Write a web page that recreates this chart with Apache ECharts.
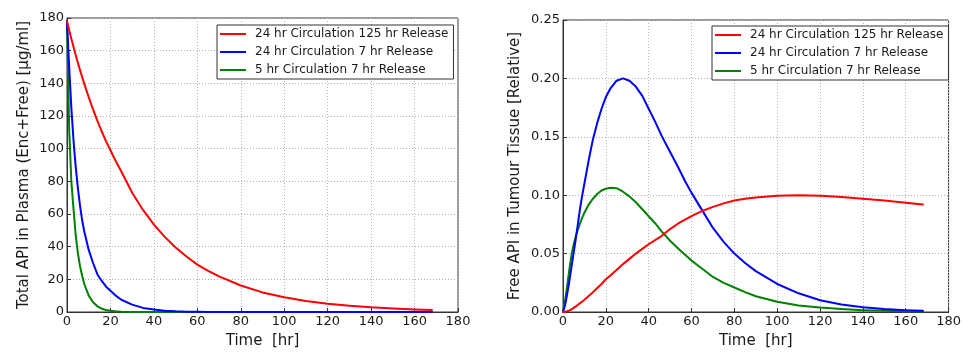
<!DOCTYPE html>
<html>
<head>
<meta charset="utf-8">
<script src="https://cdn.jsdelivr.net/npm/echarts@6/dist/echarts.min.js"></script>
<style>
html,body{margin:0;padding:0;background:#fff;}
#chart{width:964px;height:354px;}
</style>
</head>
<body>
<div id="chart"></div>
<script>
// ---- Data ----
const seriesNames = ['24 hr Circulation 125 hr Release', '24 hr Circulation 7 hr Release', '5 hr Circulation 7 hr Release'];
const xTicks = [0, 20, 40, 60, 80, 100, 120, 140, 160, 180];

// Left chart: Total API in Plasma
const plasmaTime = [0,1,2,3,4,5,6,7,8,10,12,14,16,18,20,22,25,30,35,40,45,50,55,60,65,70,80,90,100,110,120,130,140,150,160,168];
const plasmaRed   = [178,172.5,167.3,162.2,157.3,152.6,148.1,143.7,139.5,131.5,124,117,110.5,104.5,99,93.5,86,73,62.5,53.5,46,39.5,34,29,25.2,21.8,16.2,12,9,6.8,5.1,3.9,2.9,2.2,1.6,1.3];
const plasmaBlue  = [178,150,125,105,89,76,65,56,49,38,30,23,19,15.5,13,10.5,7.5,4.5,2.5,1.5,0.8,0.4,0.2,0.1,0.05,0.03,0.01,0,0,0,0,0,0,0,0,0];
const plasmaGreen = [178,112,80,63,47,36,28,22,17,10,6,3.5,2,1.2,0.7,0.4,0.2,0.05,0.02,0,0,0,0,0,0,0,0,0,0,0,0,0,0,0,0,0];

// Right chart: Free API in Tumour Tissue
const tumourTime = [0,1,2,3,4,5,6,7,8,9,10,12,14,16,18,20,22,25,28,31,34,37,40,43,46,50,54,57,60,65,70,75,80,85,90,100,110,120,130,140,150,160,168];
const tumourRed   = [0,0.0002,0.0006,0.0013,0.0023,0.0035,0.0048,0.0062,0.0076,0.009,0.0105,0.0137,0.017,0.0205,0.024,0.028,0.031,0.036,0.041,0.0455,0.050,0.054,0.058,0.0615,0.065,0.071,0.076,0.079,0.082,0.0865,0.090,0.093,0.0955,0.097,0.098,0.0995,0.100,0.0995,0.0985,0.097,0.0955,0.0935,0.092];
const tumourBlue  = [0,0.006,0.016,0.027,0.039,0.051,0.063,0.076,0.089,0.100,0.110,0.130,0.148,0.162,0.174,0.184,0.191,0.198,0.200,0.198,0.193,0.185,0.174,0.163,0.151,0.137,0.123,0.112,0.102,0.087,0.072,0.060,0.050,0.042,0.035,0.024,0.016,0.010,0.0065,0.004,0.0025,0.0015,0.001];
const tumourGreen = [0,0.010,0.023,0.037,0.049,0.058,0.065,0.071,0.076,0.081,0.085,0.092,0.097,0.101,0.104,0.1055,0.1063,0.106,0.103,0.099,0.094,0.088,0.082,0.076,0.069,0.061,0.054,0.049,0.044,0.037,0.030,0.025,0.021,0.017,0.0135,0.0087,0.0056,0.0038,0.0025,0.0016,0.001,0.0007,0.0005];

// ---- Styles ----
const colors = ['#ff0000', '#0000ff', '#008000'];
const FONT = 'DejaVu Sans';
const TXT = '#1a1a1a';

function pairs(t, v) { return t.map((x, i) => [x, v[i]]); }

function xAxisDef(gridIndex) {
  return {
    type: 'value', gridIndex: gridIndex, min: xTicks[0], max: xTicks[xTicks.length - 1], interval: xTicks[1] - xTicks[0],
    name: 'Time  [hr]', nameLocation: 'middle', nameGap: 22,
    nameTextStyle: { fontFamily: FONT, fontSize: 15, color: TXT },
    axisLine: { show: true, lineStyle: { color: '#333', width: 1 } },
    axisTick: { show: true, inside: true, length: 4, lineStyle: { color: '#333' } },
    axisLabel: { fontFamily: FONT, fontSize: 13, color: TXT, margin: 3 },
    splitLine: { show: true, lineStyle: { color: '#b4b4b4', type: [1, 2], width: 1 } }
  };
}

function yAxisDef(gridIndex, max, interval, name, gap, digits) {
  return {
    type: 'value', gridIndex: gridIndex, min: 0, max: max, interval: interval,
    name: name, nameLocation: 'middle', nameGap: gap,
    nameTextStyle: { fontFamily: FONT, fontSize: 15, color: TXT },
    axisLine: { show: true, lineStyle: { color: '#333', width: 1 } },
    axisTick: { show: true, inside: true, length: 4, lineStyle: { color: '#333' } },
    axisLabel: { fontFamily: FONT, fontSize: 13, color: TXT, margin: 3,
      formatter: v => digits ? v.toFixed(digits) : String(v) },
    splitLine: { show: true, lineStyle: { color: '#b4b4b4', type: [1, 2], width: 1 } }
  };
}

function legendDef(left, top) {
  return {
    left: left, top: top, orient: 'vertical',
    data: seriesNames.map(n => ({ name: n, icon: 'rect' })),
    itemWidth: 26, itemHeight: 2, itemGap: 0,
    padding: [0, 5, 0, 3],
    borderColor: '#333', borderWidth: 1, backgroundColor: '#fff',
    textStyle: { fontFamily: FONT, fontSize: 12, color: TXT, lineHeight: 18, padding: [0, 0, 0, 4] },
    selectedMode: false
  };
}

const series = [];
const plasmaVals = [plasmaRed, plasmaBlue, plasmaGreen];
const tumourVals = [tumourRed, tumourBlue, tumourGreen];
seriesNames.forEach((n, i) => {
  series.push({ name: n, type: 'line', xAxisIndex: 0, yAxisIndex: 0, data: pairs(plasmaTime, plasmaVals[i]),
    showSymbol: false, smooth: false, lineStyle: { color: colors[i], width: 2, join: 'round', cap: 'round' }, itemStyle: { color: colors[i] }, z: 3 - i });
});
seriesNames.forEach((n, i) => {
  series.push({ name: n, type: 'line', xAxisIndex: 1, yAxisIndex: 1, data: pairs(tumourTime, tumourVals[i]),
    showSymbol: false, smooth: false, lineStyle: { color: colors[i], width: 2, join: 'round', cap: 'round' }, itemStyle: { color: colors[i] }, z: 3 - i });
});

const chart = echarts.init(document.getElementById('chart'), null, { renderer: 'canvas' });
chart.setOption({
  animation: false,
  backgroundColor: '#fff',
  color: colors,
  grid: [
    { left: 67, right: 506, top: 18, bottom: 40, show: true, borderColor: '#333', borderWidth: 1, backgroundColor: 'transparent' },
    { left: 563, right: 10, top: 20, bottom: 39, show: true, borderColor: '#333', borderWidth: 1, backgroundColor: 'transparent' }
  ],
  xAxis: [xAxisDef(0), xAxisDef(1)],
  yAxis: [
    yAxisDef(0, 180, 20, 'Total API in Plasma (Enc+Free) [μg/ml]', 35, 0),
    yAxisDef(1, 0.25, 0.05, 'Free API in Tumour Tissue [Relative]', 40, 2)
  ],
  legend: [legendDef(217, 25), legendDef(712, 26)],
  series: series
});
</script>
</body>
</html>
